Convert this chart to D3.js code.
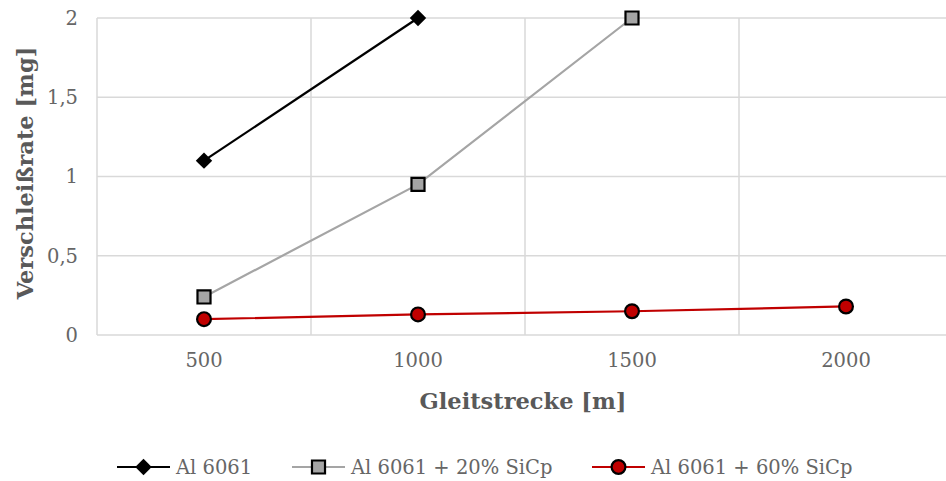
<!DOCTYPE html>
<html><head><meta charset="utf-8">
<script src="https://cdn.jsdelivr.net/npm/d3@7"></script>
<style>body{margin:0;background:#fff;overflow:hidden}</style>
</head><body>
<svg id="c" width="946" height="481"></svg>
<script>
const categories = ["500", "1000", "1500", "2000"];
const seriesNames = ["Al 6061", "Al 6061 + 20% SiCp", "Al 6061 + 60% SiCp"];
const al6061 = [1.1, 2.0, null, null];
const sic20 = [0.24, 0.95, 2.0, null];
const sic60 = [0.10, 0.13, 0.15, 0.18];
const yTicks = [0, 0.5, 1, 1.5, 2];
const yTickLabels = ["0", "0,5", "1", "1,5", "2"];

const svg = d3.select("#c");
const m = {l: 97, r: 953, t: 18, b: 335};
const x = d3.scaleBand().domain(categories).range([m.l, m.r]);
const y = d3.scaleLinear().domain([0, 2]).range([m.b, m.t]);
const font = "'DejaVu Serif', serif";
const txt = "#595959";
const tickCol = "#666666";

// grid
const g = svg.append("g");
g.selectAll("line.h").data(yTicks).join("line")
  .attr("x1", m.l).attr("x2", m.r).attr("y1", d => y(d)).attr("y2", d => y(d))
  .attr("stroke", "#d9d9d9").attr("stroke-width", 1.5);
const bounds = categories.map(c => x(c)).concat([x(categories[categories.length-1]) + x.bandwidth()]);
g.selectAll("line.v").data(bounds).join("line")
  .attr("x1", d => d).attr("x2", d => d).attr("y1", m.t).attr("y2", m.b)
  .attr("stroke", "#d9d9d9").attr("stroke-width", 1.5);

// axes labels
const yAxis = d3.axisLeft(y).tickValues(yTicks).tickFormat((d, i) => yTickLabels[i]).tickSize(0).tickPadding(19);
const ya = svg.append("g").attr("transform", `translate(${m.l},0)`).call(yAxis);
ya.select(".domain").remove();
ya.selectAll("text").attr("font-family", font).attr("font-size", 19.5).attr("fill", tickCol);

const xAxis = d3.axisBottom(x).tickSize(0).tickPadding(18);
const xa = svg.append("g").attr("transform", `translate(0,${m.b})`).call(xAxis);
xa.select(".domain").remove();
xa.selectAll("text").attr("font-family", font).attr("font-size", 19.5).attr("fill", tickCol);

svg.append("text").attr("x", 523).attr("y", 409).attr("text-anchor", "middle")
  .attr("font-family", font).attr("font-size", 22.5).attr("font-weight", "bold").attr("fill", txt)
  .text("Gleitstrecke [m]");
svg.append("text").attr("transform", "translate(33,173) rotate(-90)").attr("text-anchor", "middle")
  .attr("font-family", font).attr("font-size", 22.5).attr("font-weight", "bold").attr("fill", txt)
  .text("Verschleißrate [mg]");

const diamond = {draw(ctx, size) { const r = Math.sqrt(size) / 2 * Math.SQRT2;
  ctx.moveTo(0, -r); ctx.lineTo(r, 0); ctx.lineTo(0, r); ctx.lineTo(-r, 0); ctx.closePath(); }};
const series = [
  {name: seriesNames[0], vals: al6061, color: "#000000", sym: diamond, size: 135, fill: "#000000", sw: 0},
  {name: seriesNames[1], vals: sic20, color: "#a5a5a5", sym: d3.symbolSquare, size: 170, fill: "#a5a5a5", sw: 2.2},
  {name: seriesNames[2], vals: sic60, color: "#c00000", sym: d3.symbolCircle, size: 150, fill: "#c00000", sw: 2.2}
];
const cx = i => x(categories[i]) + x.bandwidth() / 2;
const line = d3.line().defined(d => d.v != null).x(d => cx(d.i)).y(d => y(d.v));

function marker(sel, s) {
  sel.attr("d", d3.symbol().type(s.sym).size(s.size)())
    .attr("fill", s.fill)
    .attr("stroke", "#000").attr("stroke-width", s.sw);
}
series.forEach(s => {
  const pts = s.vals.map((v, i) => ({v, i}));
  svg.append("path").datum(pts).attr("d", line).attr("fill", "none")
    .attr("stroke", s.color).attr("stroke-width", 2.2);
  svg.selectAll(null).data(pts.filter(p => p.v != null)).join("path")
    .attr("transform", p => `translate(${cx(p.i)},${y(p.v)})`)
    .each(function() { marker(d3.select(this), s); });
});

// legend
const legX = [117, 292, 592];
series.forEach((s, k) => {
  const lg = svg.append("g").attr("transform", `translate(${legX[k]},467)`);
  lg.append("line").attr("x1", 0).attr("x2", 53).attr("stroke", s.color).attr("stroke-width", 2.2);
  lg.append("path").attr("transform", "translate(26.5,0)").call(sel => marker(sel, s));
  lg.append("text").attr("x", 59).attr("y", 0).attr("dy", "0.35em")
    .attr("font-family", font).attr("font-size", 19.5).attr("fill", tickCol).text(s.name);
});
</script>
</body></html>
